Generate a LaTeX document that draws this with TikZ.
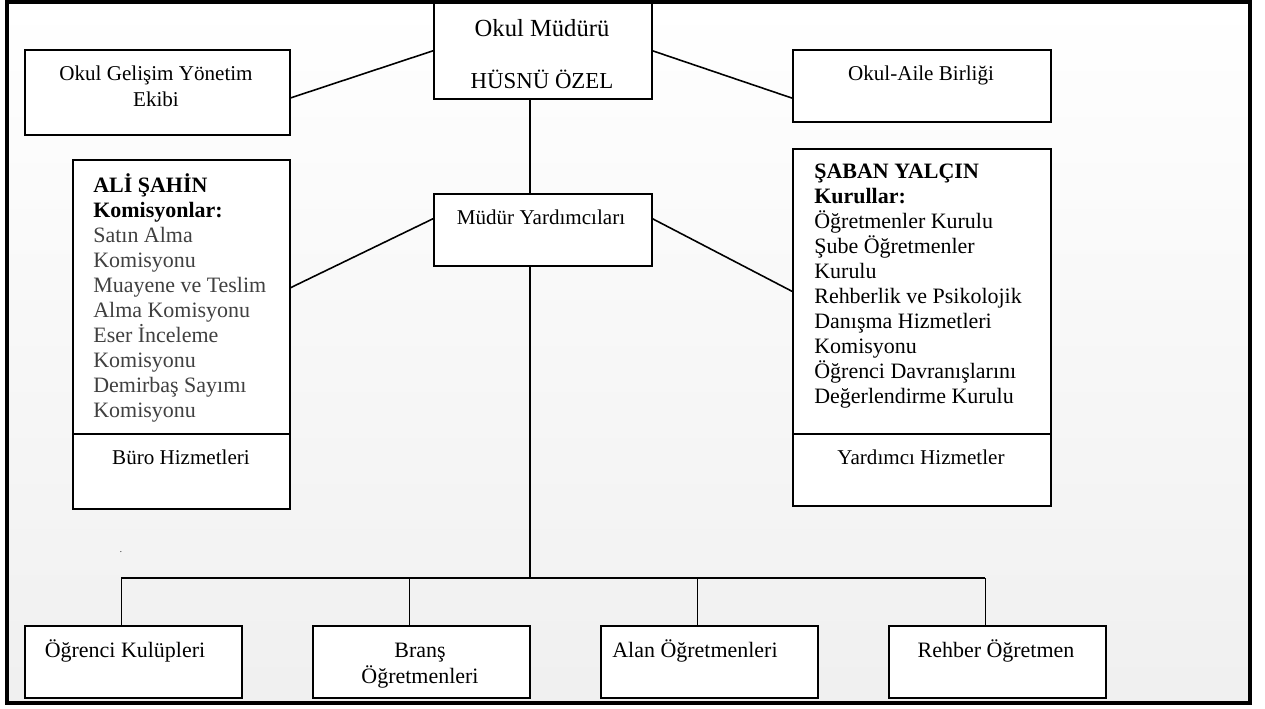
\documentclass[tikz,border=0pt]{standalone}
\usepackage{fontspec}
\setmainfont{Liberation Serif}
\usetikzlibrary{calc}

\begin{document}
\begin{tikzpicture}[x=0.02cm, y=-0.02cm,
	box/.style 2 args={draw, line width=0.9pt, fill=white, anchor=north west, inner sep=0pt,
		minimum width=#1*0.02cm, minimum height=#2*0.02cm},
	conn/.style={line width=0.9pt},
	txt/.style={anchor=base, inner sep=0pt, font=\fontsize{12}{14}\selectfont},
	cmb/.style={anchor=base, inner sep=0pt, font=\fontsize{12.5}{15}\selectfont},
	item/.style={anchor=base west, inner sep=0pt, font=\fontsize{12.5}{15}\selectfont},
	head/.style={item, font=\fontsize{12.5}{15}\selectfont\bfseries}]
	\useasboundingbox (0,0) rectangle (1265,708);
	\shade [top color=white, bottom color=black!6] (7,2) rectangle (1250,703);
	\draw [line width=1.8pt] (7,2) rectangle (1250,703);

	\node [box={218}{96}] (mudur) at (433,2) {};
	\node [cmb, font=\fontsize{14}{16}\selectfont] (mudur-t1) at (542,36) {Okul Müdürü};
	\node [cmb, font=\fontsize{13}{16}\selectfont] (mudur-t2) at (542,88) {HÜSNÜ ÖZEL};

	\node [box={265}{85}] (gelisim) at (24,49) {};
	\node [txt] (gelisim-t1) at (156,80) {Okul Gelişim Yönetim};
	\node [txt] (gelisim-t2) at (156,106) {Ekibi};

	\node [box={258}{72}] (aile) at (792,49) {};
	\node [txt] (aile-t) at (921,80) {Okul-Aile Birliği};

	\node [box={218}{72}] (yard) at (433,193) {};
	\node [txt] (yard-t) at (541,224) {Müdür Yardımcıları};

	\node [box={217}{274}] (ali) at (72,159) {};
	\foreach \t [count=\i] in {ALİ ŞAHİN, Komisyonlar:}
		\node [head] (ali-h\i) at (93,{167+25*\i}) {\t};
	\foreach \t [count=\i] in {Satın Alma, Komisyonu, Muayene ve Teslim, Alma Komisyonu,
		Eser İnceleme, Komisyonu, Demirbaş Sayımı, Komisyonu}
		\node [item, black!75] (ali-\i) at (93,{217+25*\i}) {\t};
	\node [box={217}{75}] (buro) at (72,433) {};
	\node [txt] (buro-t) at (181,464) {Büro Hizmetleri};

	\node [box={258}{285}] (saban) at (792,148) {};
	\foreach \t [count=\i] in {ŞABAN YALÇIN, Kurullar:}
		\node [head] (saban-h\i) at (814,{153+25*\i}) {\t};
	\foreach \t [count=\i] in {Öğretmenler Kurulu, Şube Öğretmenler, Kurulu, Rehberlik ve Psikolojik,
		Danışma Hizmetleri, Komisyonu, Öğrenci Davranışlarını, Değerlendirme Kurulu}
		\node [item] (saban-\i) at (814,{203+25*\i}) {\t};
	\node [box={258}{72}] (yrd) at (792,433) {};
	\node [txt] (yrd-t) at (921,464) {Yardımcı Hizmetler};

	\foreach \n [count=\i from 0] in {ogr, brans, alan, rehber}
		\node [box={217}{72}] (\n) at ({24+288*\i},625) {};
	\node [cmb] (ogr-t) at (125,657) {Öğrenci Kulüpleri};
	\node [cmb] (brans-t1) at (420,657) {Branş};
	\node [cmb] (brans-t2) at (420,683) {Öğretmenleri};
	\node [cmb] (alan-t) at (695,657) {Alan Öğretmenleri};
	\node [cmb] (rehber-t) at (996,657) {Rehber Öğretmen};
	\node [anchor=base, inner sep=0pt, font=\tiny] (dot) at (121,552) {.};

	\coordinate (trunk) at (530,578);
	\draw [conn] ($(gelisim.north east)!0.565!(gelisim.south east)$) -- (mudur.west);
	\draw [conn] (mudur.east) -- ($(aile.north west)!0.667!(aile.south west)$);
	\draw [conn] (mudur.south -| trunk) -- (yard.north -| trunk);
	\draw [conn] ($(ali.north east)!0.467!(ali.south east)$) -- ($(yard.north west)!0.35!(yard.south west)$);
	\draw [conn] ($(yard.north east)!0.35!(yard.south east)$) -- (saban.west);
	\draw [conn] (yard.south -| trunk) -- (trunk);
	\draw [conn] ($(ogr.north)+(-12,-47)$) -- ($(rehber.north)+(-12,-47)$);
	\foreach \n in {ogr, brans, alan, rehber}
		\draw [conn] ($(\n.north)+(-12,0)$) -- ++(0,-47);
\end{tikzpicture}
\end{document}
